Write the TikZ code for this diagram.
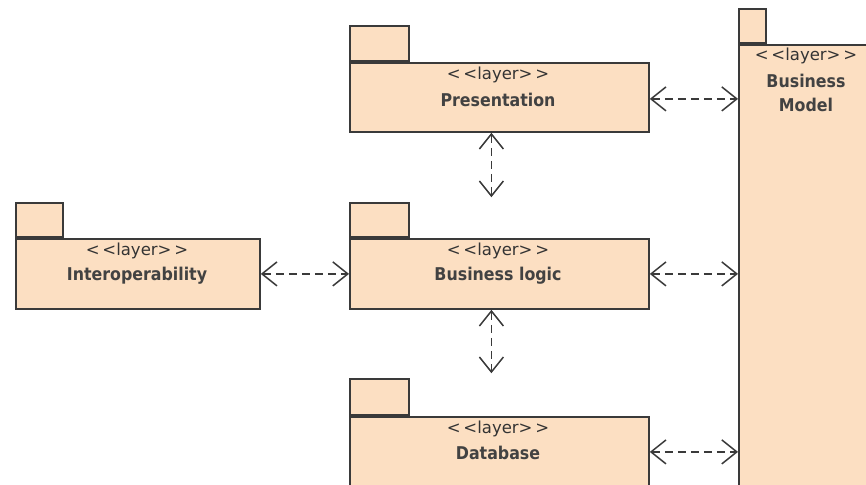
\documentclass[tikz,border=0pt]{standalone}
\usepackage{fontspec}
\setmainfont{DejaVu Sans}
\newfontfamily\namefont{DejaVu Sans Condensed}
\usetikzlibrary{arrows.meta,calc}
\definecolor{pkgfill}{RGB}{252,223,194}
\definecolor{pkgline}{RGB}{58,58,58}
\begin{document}
\begin{tikzpicture}[x=1pt,y=-1pt,
  pkgbody/.style={draw=pkgline,fill=pkgfill,line width=1.8pt,rectangle,
    anchor=north west,inner sep=0pt},
  pkgtab/.style={draw=pkgline,fill=pkgfill,line width=1.8pt,rectangle,
    anchor=south west,inner sep=0pt,minimum height=35pt},
  dep/.style={draw=pkgline,line width=1.5pt,dash pattern=on 8pt off 5pt,
    {Straight Barb[length=15pt,width=24pt]}-{Straight Barb[length=15pt,width=24pt]}},
  sttxt/.style={font=\fontsize{16.5}{18}\selectfont,text=black!80,inner sep=0pt},
  nmtxt/.style={font=\namefont\bfseries\fontsize{17.6}{19}\selectfont,text=black!74,inner sep=0pt}
]
\useasboundingbox (0,0) rectangle (866,484);
\clip (0,0) rectangle (866,484);
\newcommand{\stereo}{<\,<layer>\,>}

% Business Model (tall package on the right)
\node[pkgbody,minimum width=136pt,minimum height=460pt] (bm) at (738,44) {};
\node[pkgtab,minimum width=27pt,minimum height=34pt] (bm-tab) at (bm.north west) {};
\node[sttxt] (bm-st) at (806,56) {\stereo};
\node[nmtxt] (bm-nm) at (806,81) {Business};
\node[nmtxt] (bm-nm2) at (806,105) {Model};

% Presentation
\node[pkgbody,minimum width=299pt,minimum height=69pt] (pres) at (349,62) {};
\node[pkgtab,minimum width=59pt] (pres-tab) at (pres.north west) {};
\node[sttxt] (pres-st) at (498,75) {\stereo};
\node[nmtxt] (pres-nm) at (498,100) {Presentation};

% Interoperability
\node[pkgbody,minimum width=244pt,minimum height=70pt] (inter) at (15,238) {};
\node[pkgtab,minimum width=47pt,minimum height=34pt] (inter-tab) at (inter.north west) {};
\node[sttxt] (inter-st) at (137,251) {\stereo};
\node[nmtxt] (inter-nm) at (137,276) {Interoperability};

% Business logic
\node[pkgbody,minimum width=299pt,minimum height=70pt] (bl) at (349,238) {};
\node[pkgtab,minimum width=59pt,minimum height=34pt] (bl-tab) at (bl.north west) {};
\node[sttxt] (bl-st) at (498,251) {\stereo};
\node[nmtxt] (bl-nm) at (498,276) {Business logic};

% Database
\node[pkgbody,minimum width=299pt,minimum height=70pt] (db) at (349,416) {};
\node[pkgtab,minimum width=59pt,minimum height=36pt] (db-tab) at (db.north west) {};
\node[sttxt] (db-st) at (498,429) {\stereo};
\node[nmtxt] (db-nm) at (498,453) {Database};

% Dependencies
\draw[dep] (pres.east) ++(0,1.5) coordinate (p1) -- (p1 -| bm.west);
\draw[dep] ($(pres.south)+(-8,0)$) coordinate (p2) -- ($(p2 |- bl-tab.north)+(0,-5)$);
\draw[dep] (inter.east) -- (bl.west);
\draw[dep] (bl.east) -- (bl.east -| bm.west);
\draw[dep] ($(bl.south)+(-8,0)$) coordinate (p3) -- ($(p3 |- db-tab.north)+(0,-5)$);
\draw[dep] (db.east) -- (db.east -| bm.west);
\end{tikzpicture}
\end{document}
